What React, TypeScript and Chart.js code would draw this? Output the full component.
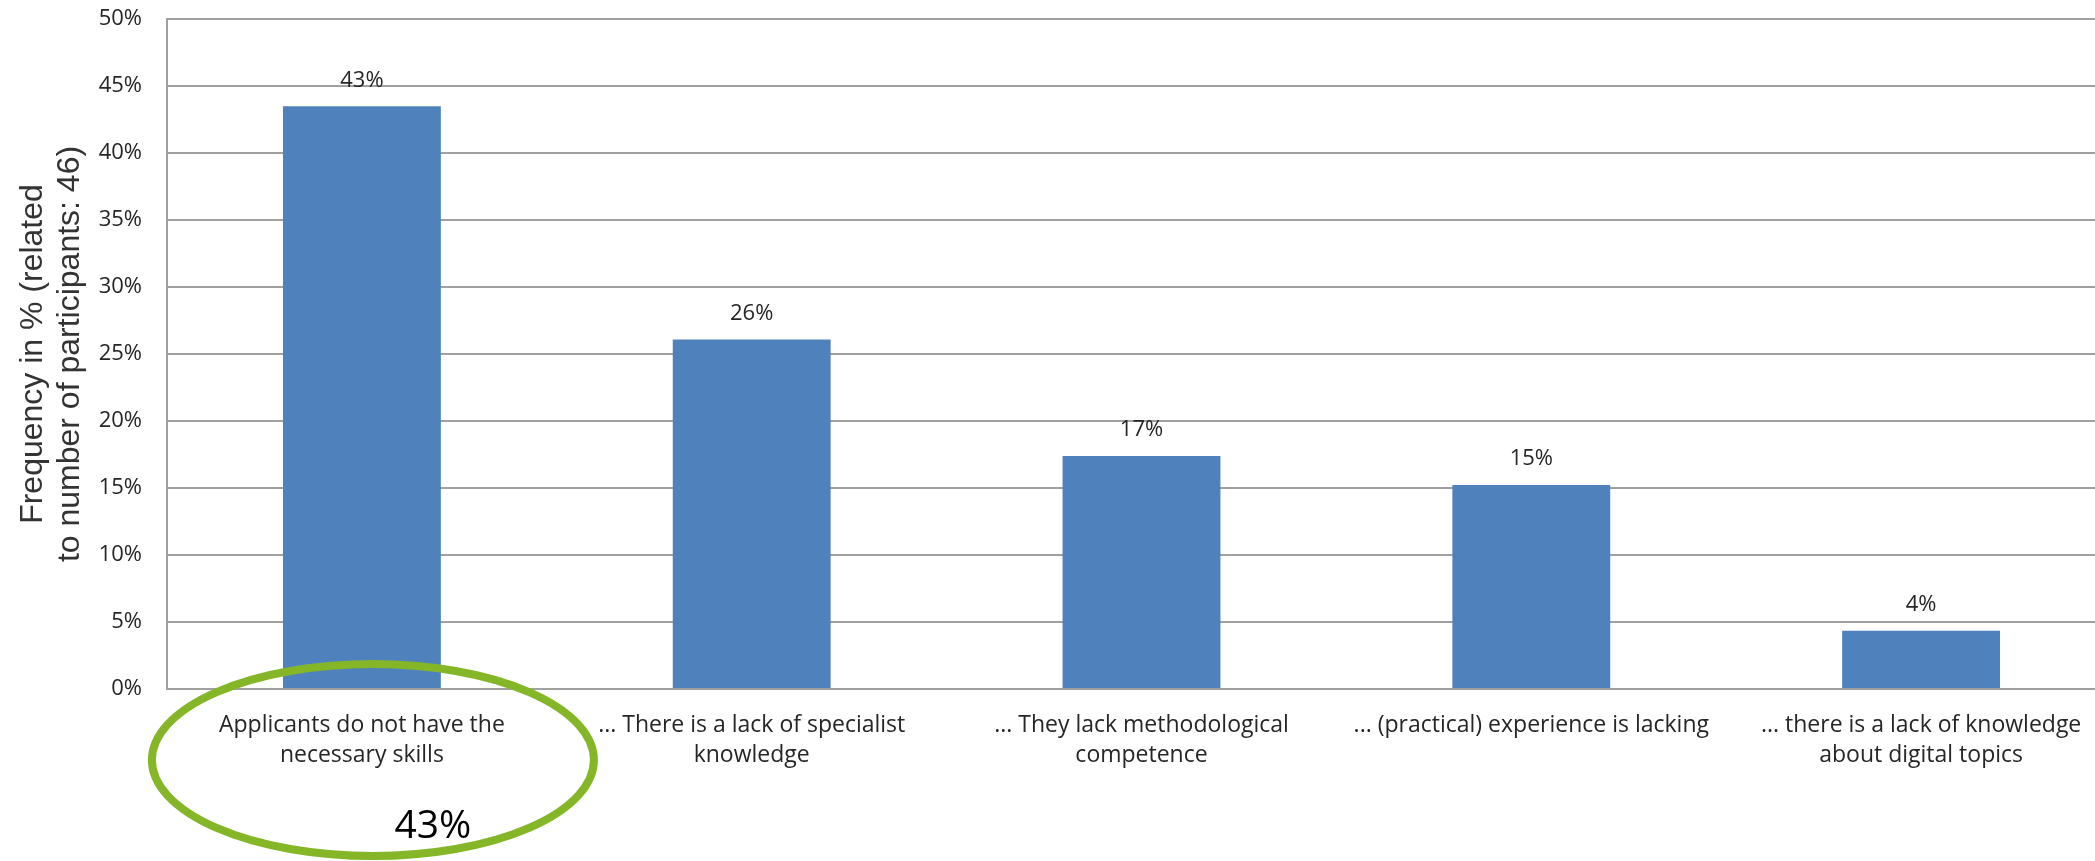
import React, { useEffect, useRef } from "react";
import Chart from "chart.js/auto";

const categories: string[][] = [
  ["Applicants do not have the", "necessary skills"],
  ["... There is a lack of specialist", "knowledge"],
  ["... They lack methodological", "competence"],
  ["... (practical) experience is lacking"],
  ["... there is a lack of knowledge", "about digital topics"],
];
const values: number[] = [43.48, 26.09, 17.39, 15.22, 4.35];
const yTitle: string[] = ["Frequency in % (related", "to number of participants: 46)"];
const yMin = 0;
const yMax = 50;
const yStep = 5;
const highlightIndex = 0;

const BAR_COLOR = "#4f81bd";
const GRID_COLOR = "#a0a0a0";
const TEXT_COLOR = "#262626";
const ELLIPSE_COLOR = "#84b628";

const valueLabelPlugin = {
  id: "valueLabels",
  afterDatasetsDraw(chart: any) {
    const ctx = chart.ctx;
    const meta = chart.getDatasetMeta(0);
    ctx.save();
    ctx.font = '22px "Open Sans"';
    ctx.fillStyle = TEXT_COLOR;
    ctx.textAlign = "center";
    ctx.textBaseline = "middle";
    meta.data.forEach((bar: any, i: number) => {
      ctx.fillText(Math.round(values[i]) + "%", bar.x, bar.y - 26);
    });
    ctx.restore();
  },
};

const calloutPlugin = {
  id: "callout",
  afterDraw(chart: any) {
    const ctx = chart.ctx;
    const cx = chart.scales.x.getPixelForValue(highlightIndex);
    const bottom = chart.chartArea.bottom;
    ctx.save();
    ctx.beginPath();
    ctx.ellipse(cx + 11, bottom + 71, 221, 96, 0, 0, Math.PI * 2);
    ctx.lineWidth = 8;
    ctx.strokeStyle = ELLIPSE_COLOR;
    ctx.stroke();
    ctx.font = '39px "Open Sans"';
    ctx.fillStyle = "#000000";
    ctx.textAlign = "center";
    ctx.textBaseline = "alphabetic";
    ctx.fillText(Math.round(values[highlightIndex]) + "%", cx + 71, bottom + 149);
    ctx.restore();
  },
};

export default function App() {
  const canvasRef = useRef<HTMLCanvasElement | null>(null);

  useEffect(() => {
    document.body.style.margin = "0";
    document.body.style.overflow = "hidden";
    const canvas = canvasRef.current;
    if (!canvas) return;
    const chart = new Chart(canvas, {
      type: "bar",
      data: {
        labels: categories,
        datasets: [
          {
            data: values,
            backgroundColor: BAR_COLOR,
            borderWidth: 0,
            barPercentage: 0.405,
            categoryPercentage: 1,
          },
        ],
      },
      options: {
        animation: false,
        responsive: false,
        maintainAspectRatio: false,
        devicePixelRatio: 1,
        layout: { padding: { top: 0, left: 0, right: 0, bottom: 0 } },
        plugins: {
          legend: { display: false },
          tooltip: { enabled: false },
        },
        scales: {
          x: {
            grid: { display: false, drawTicks: false },
            border: { display: true, color: GRID_COLOR, width: 2 },
            ticks: {
              color: TEXT_COLOR,
              font: { family: "Open Sans", size: 23, lineHeight: 1.3 },
              padding: 22,
              maxRotation: 0,
              minRotation: 0,
              autoSkip: false,
            },
            afterFit: (scale: any) => {
              scale.height = 172;
            },
          },
          y: {
            min: yMin,
            max: yMax,
            grid: { color: GRID_COLOR, lineWidth: 2, drawTicks: false },
            border: { display: true, color: GRID_COLOR, width: 2 },
            ticks: {
              stepSize: yStep,
              color: TEXT_COLOR,
              font: { family: "Open Sans", size: 22 },
              padding: 25,
              callback: (v: any) => v + "%",
            },
            title: {
              display: true,
              text: yTitle,
              color: "#333333",
              font: { family: "Liberation Sans", size: 32, lineHeight: 1.15 },
              padding: { top: 15, bottom: 0 },
            },
            afterFit: (scale: any) => {
              scale.width = 167;
              scale.paddingTop = 19;
              scale.paddingBottom = 0;
            },
          },
        },
      },
      plugins: [valueLabelPlugin, calloutPlugin],
    });
    return () => chart.destroy();
  }, []);

  return (
    <div
      style={{
        position: "absolute",
        left: 0,
        top: 0,
        width: 2095,
        height: 861,
        overflow: "hidden",
        background: "#ffffff",
      }}
    >
      <canvas ref={canvasRef} width={2116} height={861} style={{ width: 2116, height: 861, display: "block" }} />
    </div>
  );
}
